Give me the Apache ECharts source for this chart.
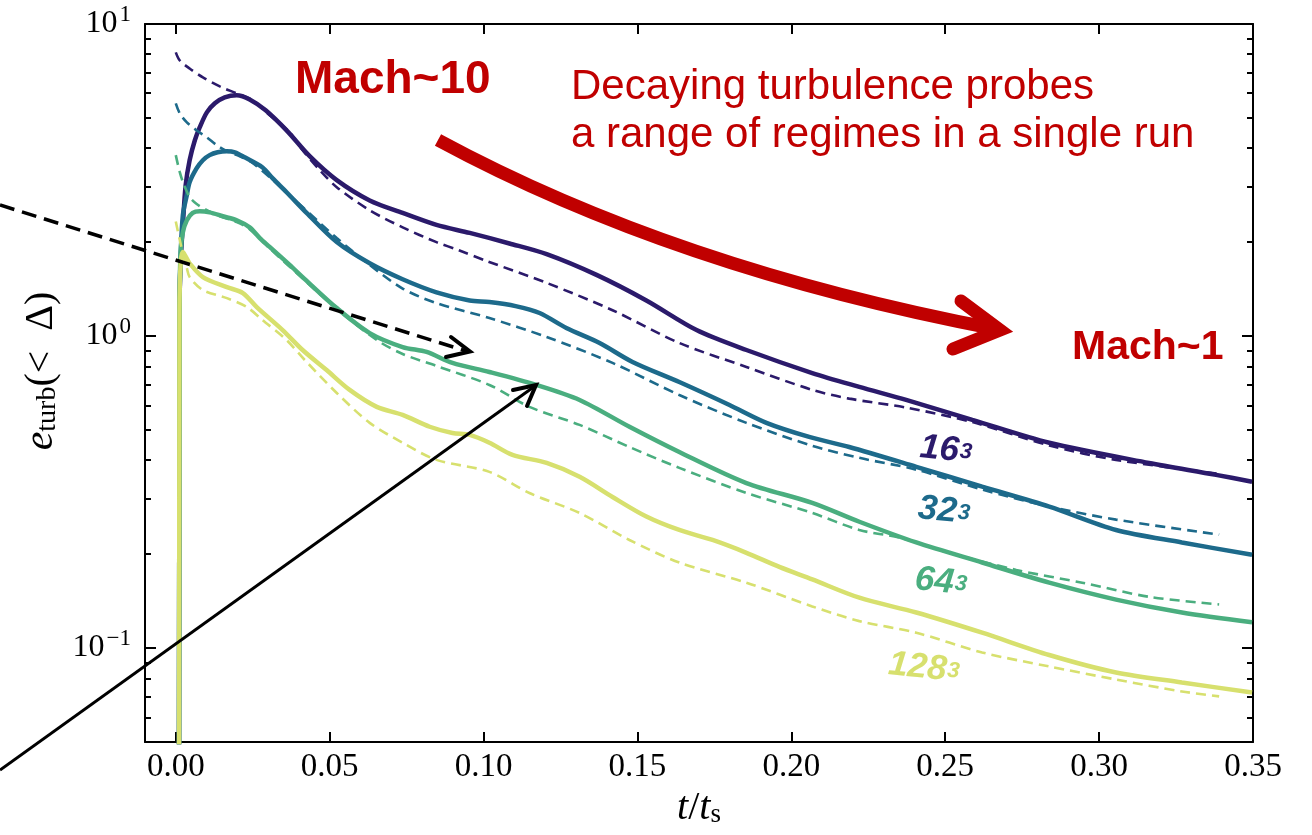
<!DOCTYPE html>
<html><head><meta charset="utf-8">
<script src="https://cdn.jsdelivr.net/npm/echarts@6/dist/echarts.min.js"></script>
<style>html,body{margin:0;padding:0;background:#fff}#c{width:1312px;height:835px}</style>
</head><body><div id="c"></div>
<script>
// ---- tick labels / categories ----
const xTicks = [0, 0.05, 0.1, 0.15, 0.2, 0.25, 0.3, 0.35];
const yMajorTicks = [0.1, 1, 10];
const yMinorTicks = [0.06,0.07,0.08,0.09,0.2,0.3,0.4,0.5,0.6,0.7,0.8,0.9,2,3,4,5,6,7,8,9];
const resolutions = ['16', '32', '64', '128'];
const colors = ['#2b1a6b', '#1d6a8b', '#4aae7f', '#d7e06e'];

// ---- 16^3 ----
const t16Solid = [0.0010,0.0012,0.0016,0.0023,0.0032,0.0045,0.0062,0.0078,0.0101,0.0127,0.0159,0.0198,0.0240,0.0292,0.0360,0.0435,0.0523,0.0630,0.0737,0.0847,0.0955,0.1084,0.1205,0.1367,0.1529,0.1692,0.1854,0.2068,0.2221,0.2373,0.2588,0.2838,0.3162,0.3380,0.3497];
const e16Solid = [0.001,1.2,1.75,2.27,3.04,3.66,4.24,4.67,5.21,5.57,5.82,5.91,5.73,5.29,4.56,3.77,3.16,2.72,2.48,2.27,2.14,1.98,1.83,1.57,1.30,1.045,0.902,0.761,0.687,0.624,0.539,0.455,0.392,0.359,0.341];
const t16Dash = [0,0.0013,0.0045,0.0088,0.0143,0.0198,0.0250,0.0305,0.0370,0.0412,0.0468,0.0523,0.0630,0.0737,0.0847,0.0922,0.1010,0.1205,0.1419,0.1636,0.1854,0.2068,0.2188,0.2373,0.2588,0.2838,0.3055,0.3390];
const e16Dash = [8.11,7.64,7.20,6.74,6.31,5.99,5.69,5.10,4.50,3.94,3.40,3.00,2.53,2.23,2.00,1.88,1.74,1.48,1.21,0.950,0.796,0.672,0.630,0.590,0.530,0.446,0.401,0.362];

// ---- 32^3 ----
const t32Solid = [0.0010,0.0012,0.0016,0.0023,0.0036,0.0045,0.0068,0.0088,0.0110,0.0136,0.0166,0.0192,0.0224,0.0282,0.0315,0.0360,0.0425,0.0523,0.0630,0.0737,0.0847,0.0955,0.1019,0.1104,0.1182,0.1269,0.1377,0.1484,0.1636,0.1799,0.1919,0.2058,0.2188,0.2406,0.2620,0.2838,0.3055,0.3269,0.3497];
const e32Solid = [0.001,1.2,1.82,2.44,2.83,3.11,3.45,3.66,3.80,3.88,3.91,3.88,3.74,3.47,3.20,2.89,2.48,2.00,1.71,1.52,1.38,1.30,1.285,1.247,1.185,1.061,0.950,0.826,0.712,0.601,0.527,0.475,0.441,0.381,0.329,0.284,0.239,0.218,0.199];
const t32Dash = [0,0.0013,0.0036,0.0068,0.0101,0.0133,0.0166,0.0208,0.0247,0.0305,0.0412,0.0523,0.0630,0.0737,0.0847,0.1019,0.1205,0.1419,0.1636,0.1854,0.2068,0.2221,0.2406,0.2620,0.2838,0.3055,0.3390];
const e32Dash = [5.57,5.17,4.84,4.56,4.33,4.09,3.91,3.77,3.60,3.23,2.59,2.06,1.69,1.42,1.275,1.142,0.993,0.820,0.647,0.527,0.445,0.407,0.373,0.322,0.284,0.258,0.231];

// ---- 64^3 ----
const t64Solid = [0.0010,0.0012,0.0016,0.0023,0.0036,0.0055,0.0078,0.0110,0.0153,0.0198,0.0240,0.0273,0.0305,0.0370,0.0412,0.0523,0.0630,0.0737,0.0815,0.0899,0.1019,0.1172,0.1312,0.1474,0.1636,0.1854,0.2068,0.2221,0.2406,0.2620,0.2838,0.3055,0.3269,0.3497];
const e64Solid = [0.001,1.2,1.88,2.15,2.35,2.48,2.51,2.49,2.42,2.35,2.23,2.06,1.93,1.69,1.545,1.229,1.022,0.922,0.889,0.820,0.767,0.697,0.624,0.512,0.425,0.338,0.292,0.254,0.218,0.188,0.162,0.143,0.130,0.121];
const t64Dash = [0,0.0013,0.0026,0.0045,0.0068,0.0101,0.0143,0.0198,0.0240,0.0305,0.0412,0.0523,0.0653,0.0737,0.0847,0.1019,0.1149,0.1312,0.1474,0.1636,0.1854,0.2068,0.2221,0.2351,0.2513,0.2731,0.2945,0.3162,0.3390];
const e64Dash = [3.80,3.35,3.06,2.79,2.65,2.53,2.42,2.32,2.20,1.91,1.53,1.22,0.971,0.876,0.802,0.697,0.593,0.519,0.441,0.378,0.314,0.271,0.239,0.226,0.202,0.178,0.162,0.146,0.138];

// ---- 128^3 ----
const t128Solid = [0.0010,0.0012,0.0016,0.0023,0.0032,0.0045,0.0088,0.0166,0.0218,0.0263,0.0347,0.0412,0.0490,0.0565,0.0653,0.0737,0.0825,0.0899,0.0955,0.1019,0.1094,0.1205,0.1312,0.1419,0.1529,0.1636,0.1744,0.1854,0.1961,0.2068,0.2221,0.2406,0.2620,0.2838,0.3055,0.3269,0.3497];
const e128Solid = [0.001,1.2,1.72,1.86,1.80,1.71,1.545,1.435,1.373,1.238,1.045,0.902,0.778,0.672,0.593,0.559,0.512,0.489,0.482,0.455,0.416,0.392,0.354,0.305,0.264,0.239,0.222,0.202,0.182,0.166,0.145,0.130,0.112,0.095,0.0835,0.0776,0.0720];
const t128Dash = [0,0.0013,0.0023,0.0036,0.0045,0.0088,0.0166,0.0231,0.0282,0.0360,0.0419,0.0523,0.0630,0.0737,0.0847,0.1019,0.1149,0.1312,0.1474,0.1636,0.1854,0.2068,0.2221,0.2406,0.2620,0.2838,0.3055,0.3269,0.3390];
const e128Dash = [2.33,2.03,1.84,1.65,1.545,1.404,1.323,1.238,1.125,0.971,0.838,0.657,0.527,0.455,0.401,0.367,0.314,0.271,0.222,0.188,0.162,0.136,0.122,0.112,0.0968,0.0873,0.0793,0.0726,0.0700];

const solidT = [t16Solid, t32Solid, t64Solid, t128Solid];
const solidE = [e16Solid, e32Solid, e64Solid, e128Solid];
const dashT = [t16Dash, t32Dash, t64Dash, t128Dash];
const dashE = [e16Dash, e32Dash, e64Dash, e128Dash];

function pairs(t, e) { return t.map((v, i) => [v, e[i]]); }

const series = [];
for (let i = 0; i < 4; i++) {
  series.push({
    type: 'line', name: resolutions[i] + ' solid', data: pairs(solidT[i], solidE[i]),
    showSymbol: false, symbol: 'none', smooth: 0.3, clip: true,
    lineStyle: { color: colors[i], width: 4.5 }, z: 3 + i
  });
  series.push({
    type: 'line', name: resolutions[i] + ' dashed', data: pairs(dashT[i], dashE[i]),
    showSymbol: false, symbol: 'none', smooth: 0.3, clip: true,
    lineStyle: { color: colors[i], width: 2.6, type: [10, 6] }, z: 3 + i
  });
}

const SERIF = '"Liberation Serif", "DejaVu Serif", serif';
const SANS = '"Liberation Sans", Arial, sans-serif';
const black = '#000';
const lineSt = { color: black, width: 2 };

function xAx(pos, labels) {
  return {
    type: 'value', min: -0.01, max: 0.35, position: pos,
    axisLine: { show: true, onZero: false, lineStyle: lineSt },
    splitLine: { show: false },
    axisTick: { show: true, inside: true, length: 10, customValues: xTicks, lineStyle: { color: black, width: 2 } },
    axisLabel: labels ? { show: true, customValues: xTicks, formatter: v => v.toFixed(2), fontFamily: SERIF, fontSize: 33, color: black, margin: 9 } : { show: false }
  };
}
function yAx(pos, ticks, len, labels, showLine) {
  return {
    type: 'log', logBase: 10, min: 0.05, max: 10, position: pos,
    axisLine: { show: showLine, onZero: false, lineStyle: lineSt },
    splitLine: { show: false }, minorTick: { show: false },
    axisTick: { show: true, inside: true, length: len, customValues: ticks, lineStyle: { color: black, width: 2 } },
    axisLabel: labels ? {
      show: true, customValues: ticks, margin: 14,
      formatter: v => '{b|10}{s|' + String(Math.round(Math.log10(v))).replace('-', '\u2212') + '}',
      rich: {
        b: { fontFamily: SERIF, fontSize: 32, color: black, lineHeight: 44, verticalAlign: 'middle' },
        s: { fontFamily: SERIF, fontSize: 23, color: black, lineHeight: 44, verticalAlign: 'top', padding: [1, 0, 0, 2] }
      }
    } : { show: false }
  };
}

const xA = xAx('bottom', true);
xA.name = '{i|t}{r|/}{i|t}{sub|s}';
xA.nameLocation = 'middle';
xA.nameGap = 40;
xA.nameTextStyle = { rich: {
  i: { fontFamily: SERIF, fontStyle: 'italic', fontSize: 40, color: black, lineHeight: 44, verticalAlign: 'bottom' },
  r: { fontFamily: SERIF, fontSize: 40, color: black, lineHeight: 44, verticalAlign: 'bottom' },
  sub: { fontFamily: SERIF, fontSize: 27, color: black, lineHeight: 32, verticalAlign: 'bottom' }
}};

const yA = yAx('left', yMajorTicks, 11, true, true);
yA.name = '{i|e}{sub|turb}{r|(<  \u0394)}';
yA.nameLocation = 'middle';
yA.nameGap = 78;
yA.nameTextStyle = { padding: [0, 0, 0, 24], rich: {
  i: { fontFamily: SERIF, fontStyle: 'italic', fontSize: 42, color: black, lineHeight: 46, verticalAlign: 'bottom' },
  r: { fontFamily: SERIF, fontSize: 40, color: black, lineHeight: 46, verticalAlign: 'bottom' },
  sub: { fontFamily: SERIF, fontSize: 28, color: black, lineHeight: 32, verticalAlign: 'bottom' }
}};

const RED = '#c00000';
const labelPos = [[946, 450], [944, 511], [941, 582], [924, 668]];
const graphics = [
  { type: 'bezierCurve', z: 100, shape: { x1: 438, y1: 140, x2: 996, y2: 329, cpx1: 675, cpy1: 268 },
    style: { stroke: RED, lineWidth: 13, fill: null } },
  { type: 'polyline', z: 100, shape: { points: [[961, 301], [1000, 330], [953, 349]] },
    style: { stroke: RED, lineWidth: 13, fill: null, lineCap: 'round', lineJoin: 'miter' } },
  { type: 'line', z: 100, shape: { x1: 0, y1: 205, x2: 466, y2: 351 },
    style: { stroke: black, lineWidth: 3.5, lineDash: [15, 8] } },
  { type: 'polyline', z: 100, shape: { points: [[451, 337], [470, 351.5], [446, 357]] },
    style: { stroke: black, lineWidth: 4, fill: null, lineCap: 'round' } },
  { type: 'line', z: 100, shape: { x1: 0, y1: 770, x2: 535, y2: 386 },
    style: { stroke: black, lineWidth: 3 } },
  { type: 'polyline', z: 100, shape: { points: [[513, 390], [536, 385], [527, 406]] },
    style: { stroke: black, lineWidth: 4, fill: null, lineCap: 'round' } },
  { type: 'text', z: 100, x: 295, y: 80, style: { text: 'Mach~10', fill: RED, fontFamily: SANS, fontWeight: 'bold', fontSize: 46,
      align: 'left', verticalAlign: 'middle', textAlign: 'left', textVerticalAlign: 'middle' } },
  { type: 'text', z: 100, x: 571, y: 87, style: { text: 'Decaying turbulence probes', fill: RED, fontFamily: SANS, fontSize: 42,
      align: 'left', verticalAlign: 'middle', textAlign: 'left', textVerticalAlign: 'middle' } },
  { type: 'text', z: 100, x: 571, y: 135, style: { text: 'a range of regimes in a single run', fill: RED, fontFamily: SANS, fontSize: 42,
      align: 'left', verticalAlign: 'middle', textAlign: 'left', textVerticalAlign: 'middle' } },
  { type: 'text', z: 100, x: 1072, y: 348, style: { text: 'Mach~1', fill: RED, fontFamily: SANS, fontWeight: 'bold', fontSize: 41,
      align: 'left', verticalAlign: 'middle', textAlign: 'left', textVerticalAlign: 'middle' } }
];
for (let i = 0; i < 4; i++) {
  graphics.push({
    type: 'text', z: 100, x: labelPos[i][0], y: labelPos[i][1], rotation: -0.1,
    style: {
      text: '{n|' + resolutions[i] + '}{s|3}',
      align: 'center', verticalAlign: 'middle', textAlign: 'center', textVerticalAlign: 'middle',
      rich: {
        n: { fontFamily: SANS, fontWeight: 'bold', fontStyle: 'italic', fontSize: 35, fill: colors[i], color: colors[i], lineHeight: 36, verticalAlign: 'middle' },
        s: { fontFamily: SANS, fontWeight: 'bold', fontStyle: 'italic', fontSize: 22, fill: colors[i], color: colors[i], lineHeight: 36, verticalAlign: 'middle', padding: [0, 0, 0, 1] }
      }
    }
  });
}

const chart = echarts.init(document.getElementById('c'), null, { renderer: 'canvas' });
chart.setOption({
  animation: false,
  backgroundColor: '#fff',
  grid: { left: 145, top: 24, width: 1108, height: 718, containLabel: false },
  xAxis: [xA, xAx('top', false)],
  yAxis: [yA, yAx('left', yMinorTicks, 6, false, false), yAx('right', yMajorTicks, 11, false, true), yAx('right', yMinorTicks, 6, false, false)],
  series: series,
  graphic: graphics
});
</script>
</body></html>
